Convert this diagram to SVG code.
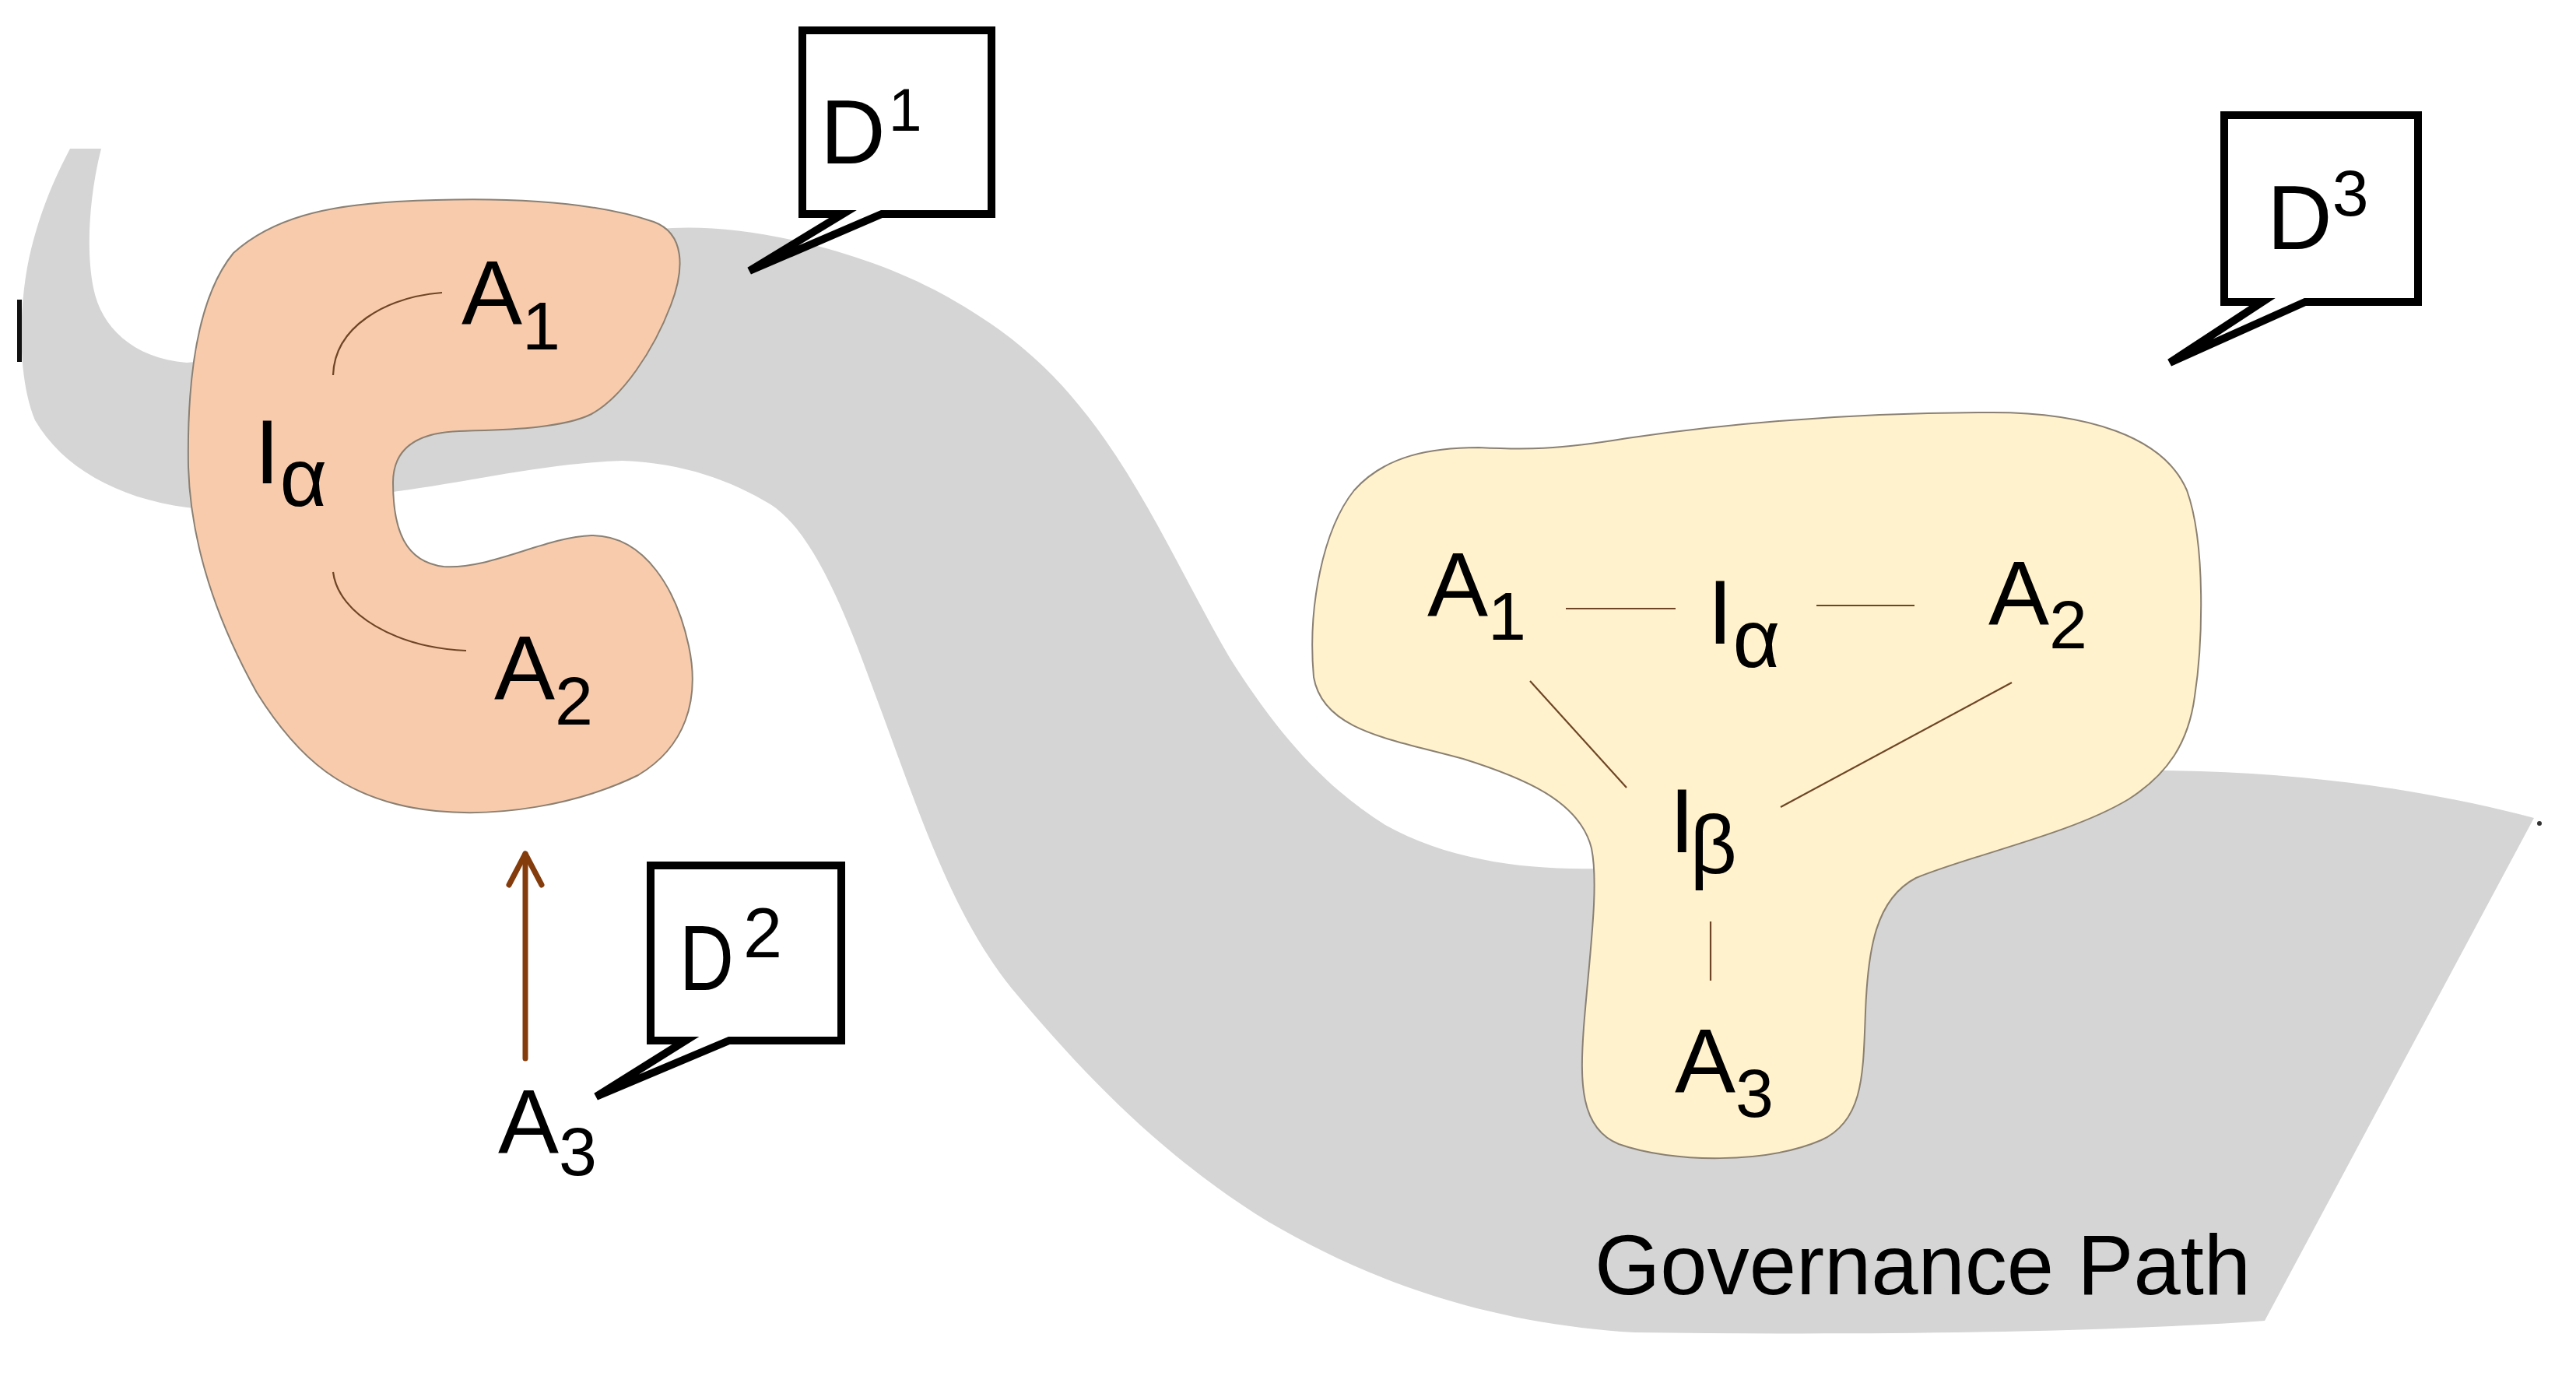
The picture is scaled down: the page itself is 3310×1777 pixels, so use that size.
<svg xmlns="http://www.w3.org/2000/svg" width="3310" height="1777" viewBox="0 0 3310 1777">
<style>
  .band{fill:#D5D5D5;stroke:none}
  .blob{stroke:#8a8073;stroke-width:2}
  .lbl{font-family:"Liberation Sans",Arial,sans-serif;fill:#000}
  .big{font-size:117px}
  .sub{font-size:88px}
  .greek{font-size:105px}
  .link{fill:none;stroke:#6E4526;stroke-width:2.2}
  .callout{fill:#fff;stroke:#000;stroke-width:10;stroke-linejoin:miter;stroke-miterlimit:4}
  .arrow{fill:none;stroke:#843C0C;stroke-width:7;stroke-linecap:round;stroke-linejoin:round}
</style>
<defs>
  <marker id="vhead" markerUnits="userSpaceOnUse" viewBox="-50 -30 60 60" refX="0" refY="0" markerWidth="60" markerHeight="60" orient="auto">
    <path d="M-40,-21 L0,0 L-40,21" fill="none" stroke="#843C0C" stroke-width="7" stroke-linecap="round" stroke-linejoin="round"/>
  </marker>
</defs>
<rect x="0" y="0" width="3310" height="1777" fill="#fff"/>

<g id="governance-path">
  <path class="band" d="M90,191 L130,191 C115,250 110,320 120,370 C130,420 170,460 240,466 L300,460 C500,400 700,300 864,293 C960,288 1100,320 1200,372 C1300,425 1360,480 1420,565 C1480,650 1530,760 1580,845 C1640,940 1700,1010 1780,1060 C1860,1105 1960,1118 2052,1116 C2300,1110 2550,995 2770,990 C2950,990 3120,1015 3256,1051 L2910,1697 C2700,1712 2400,1716 2100,1712 C1900,1700 1750,1640 1630,1570 C1500,1490 1400,1390 1300,1270 C1220,1170 1180,1040 1120,880 C1080,770 1040,680 990,648 C940,618 880,595 800,592 C700,595 600,620 504,632 C420,645 330,660 240,652 C150,640 80,600 45,540 C20,480 25,380 40,320 C55,260 75,220 90,191 Z"/>
  <rect x="22" y="385" width="6" height="80" fill="#111"/>
  <circle cx="3263" cy="1058" r="3" fill="#333"/>
  <text class="lbl" x="2049" y="1663" font-size="109" textLength="843" lengthAdjust="spacingAndGlyphs">Governance Path</text>
</g>

<g id="group-orange">
  <path class="blob" fill="#F8CBAD" d="M510,259 C640,252 760,258 840,285 C880,300 880,345 862,392 C840,450 800,510 760,532 C720,552 640,552 590,554 C530,556 505,580 505,620 C505,680 520,722 570,728 C630,732 700,690 760,688 C830,688 870,760 885,830 C900,900 880,960 820,996 C740,1035 640,1050 560,1042 C440,1030 380,970 330,890 C280,800 245,700 242,600 C240,480 255,380 300,325 C350,280 420,264 510,259 Z"/>
  <text id="orange-A1" class="lbl big" x="593" y="417">A<tspan class="sub" dy="32">1</tspan></text>
  <text id="orange-Ialpha" class="lbl big" x="327" y="621">I<tspan class="greek" dy="29">α</tspan></text>
  <text id="orange-A2" class="lbl big" x="635" y="899">A<tspan class="sub" dy="32">2</tspan></text>
</g>

<g id="group-yellow">
  <path class="blob" fill="#FFF2CC" d="M1900,575 C1960,578 2000,578 2091,563 C2250,540 2400,530 2560,530 C2680,530 2780,560 2810,630 C2835,700 2830,830 2820,895 C2812,955 2785,995 2735,1027 C2660,1072 2535,1098 2462,1128 C2410,1155 2400,1220 2397,1300 C2394,1380 2395,1440 2340,1465 C2270,1495 2150,1495 2080,1470 C2030,1450 2030,1390 2035,1320 C2042,1230 2055,1140 2045,1090 C2030,1030 1960,1000 1880,975 C1790,950 1700,940 1688,870 C1680,780 1700,680 1740,630 C1780,585 1840,575 1900,575 Z"/>
  <text id="yellow-A1" class="lbl big" x="1834" y="792">A<tspan class="sub" dy="30">1</tspan></text>
  <text id="yellow-Ialpha" class="lbl big" x="2194" y="827">I<tspan class="greek" dy="30">α</tspan></text>
  <text id="yellow-A2" class="lbl big" x="2555" y="803">A<tspan class="sub" dy="30">2</tspan></text>
  <text id="yellow-Ibeta" class="lbl big" x="2145" y="1095">I<tspan class="greek" dx="-6" dy="27">β</tspan></text>
  <text id="yellow-A3" class="lbl big" x="2152" y="1404">A<tspan class="sub" dy="31">3</tspan></text>
</g>

<text id="agent-A3" class="lbl big" x="640" y="1482">A<tspan class="sub" dy="28">3</tspan></text>

<g id="connectors">
  <path class="link" d="M568,376 C495,382 430,420 428,482"/>
  <path class="link" d="M428,735 C435,790 510,832 599,836"/>
  <line class="link" x1="2012" y1="782" x2="2153" y2="782"/>
  <line class="link" x1="2334" y1="778" x2="2460" y2="778"/>
  <line class="link" x1="1966" y1="875" x2="2090" y2="1012"/>
  <line class="link" x1="2585" y1="877" x2="2288" y2="1037"/>
  <line class="link" x1="2198" y1="1184" x2="2198" y2="1260"/>
  <line class="arrow" x1="675" y1="1360" x2="675" y2="1097" marker-end="url(#vhead)"/>
</g>

<g id="callout-D1">
  <path class="callout" d="M1031,39 H1274 V275 H1133 L963,348 L1083,275 H1031 Z"/>
  <text class="lbl" x="1054" y="210" font-size="116">D<tspan font-size="77" dx="4" dy="-42">1</tspan></text>
</g>
<g id="callout-D2">
  <path class="callout" d="M836,1112 H1081 V1337 H937 L766,1409 L881,1337 H836 Z"/>
  <text class="lbl" x="873" y="1272" font-size="118"><tspan textLength="70" lengthAdjust="spacingAndGlyphs">D</tspan><tspan font-size="90" x="955" y="1230">2</tspan></text>
</g>
<g id="callout-D3">
  <path class="callout" d="M2858,148 H3107 V388 H2962 L2788,466 L2907,388 H2858 Z"/>
  <text class="lbl" x="2913" y="320" font-size="116">D<tspan font-size="84" dy="-43">3</tspan></text>
</g>
</svg>
